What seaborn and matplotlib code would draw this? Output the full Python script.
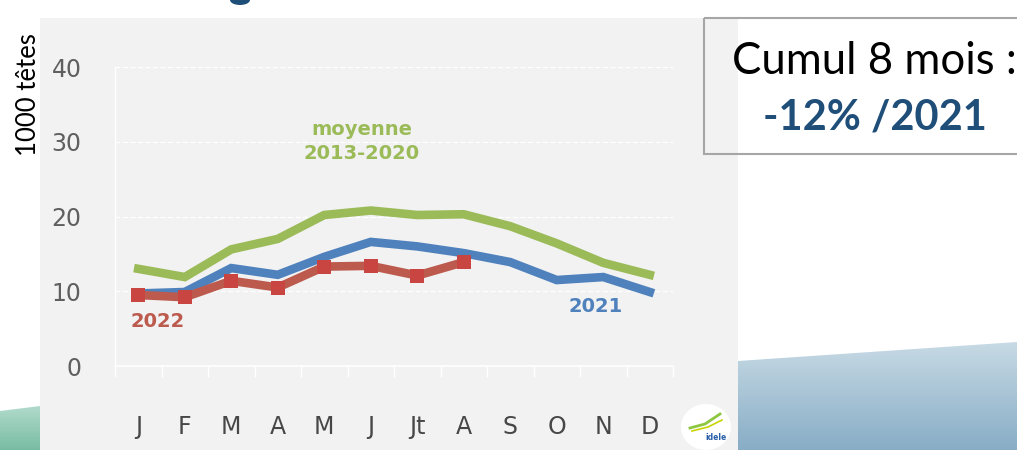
import numpy as np
import pandas as pd
import matplotlib
matplotlib.use("Agg")
import matplotlib.pyplot as plt
from matplotlib.colors import LinearSegmentedColormap
from matplotlib.patches import Rectangle, Polygon, Ellipse
import seaborn as sns

# ---------------- data ----------------
months = ["J", "F", "M", "A", "M", "J", "Jt", "A", "S", "O", "N", "D"]
moyenne_2013_2020 = [13.0, 11.9, 15.6, 17.0, 20.2, 20.8, 20.2, 20.3, 18.7, 16.4, 13.8, 12.2]
serie_2021 = [9.7, 9.9, 13.1, 12.2, 14.6, 16.6, 16.0, 15.1, 13.9, 11.5, 11.9, 9.9]
serie_2022 = [9.5, 9.2, 11.4, 10.5, 13.3, 13.4, 12.1, 13.9]
y_ticks = [0, 10, 20, 30, 40]

C_GREEN = "#9bbb59"
C_BLUE = "#4f81bd"
C_RED_LINE = "#bc5a4e"
C_RED_MARK = "#c94542"

df_moy = pd.DataFrame({"idx": range(len(moyenne_2013_2020)), "val": moyenne_2013_2020})
df_21 = pd.DataFrame({"idx": range(len(serie_2021)), "val": serie_2021})
df_22 = pd.DataFrame({"idx": range(len(serie_2022)), "val": serie_2022})

W, H = 1017, 450
fig = plt.figure(figsize=(W / 100, H / 100), dpi=100)
fig.patch.set_facecolor("white")

# ------------- background decoration (pixel coords) -------------
bg = fig.add_axes([0, 0, 1, 1], zorder=0)
bg.set_xlim(0, W)
bg.set_ylim(H, 0)
bg.axis("off")
bg.add_patch(Rectangle((40, 18), 698, 432, fc="#f2f2f2", ec="none", zorder=1))

def grad_poly(pts, c_top, c_bot, ext):
    cmap = LinearSegmentedColormap.from_list("g", [c_top, c_bot])
    grad = np.linspace(0, 1, 200).reshape(-1, 1)
    im = bg.imshow(grad, cmap=cmap, extent=ext, aspect="auto", zorder=2)
    poly = Polygon(pts, closed=True, fc="none", ec="none", transform=bg.transData)
    bg.add_patch(poly)
    im.set_clip_path(poly)

grad_poly([(0, 411), (40, 406), (40, 450), (0, 450)], "#b3dccd", "#78bca3", (0, 40, 450, 404))
grad_poly([(738, 361), (1017, 342), (1017, 450), (738, 450)], "#c8dbe5", "#88adc6", (738, 1017, 450, 340))
bg.set_xlim(0, W)
bg.set_ylim(H, 0)

# title remnant at the top
bg.add_patch(Ellipse((240, 0), 20, 10, fc="#1f4e79", ec="none", zorder=3))

# summary box
bg.add_patch(Rectangle((704, 18), 330, 136, fc="none", ec="#a6a6a6", lw=1.5, zorder=3))
bg.text(874, 62, "Cumul 8 mois :", fontsize=31.5, family="Lato", color="black",
        ha="center", va="center", zorder=4)
bg.text(875, 117, "-12% /2021", fontsize=30, family="Lato", fontweight="bold",
        color="#1f4e79", ha="center", va="center", zorder=4)

# small logo
bg.add_patch(Ellipse((706, 427), 50, 46, fc="white", ec="none", zorder=3))
bg.plot([690, 705, 720], [428, 424, 414], color="#8dc63f", lw=2, zorder=4)
bg.plot([692, 708, 722], [431, 427, 420], color="#c8d400", lw=1.2, zorder=4)
bg.text(716, 438, "idele", fontsize=5.5, fontweight="bold", color="#2a5fa8",
        ha="center", va="center", zorder=4)

# ---------------- main chart ----------------
ax = fig.add_axes([115 / W, (H - 366) / H, 558 / W, 299 / H], zorder=2)
ax.set_facecolor("none")

sns.lineplot(data=df_moy, x="idx", y="val", color=C_GREEN, linewidth=6.2,
             ax=ax, legend=False, solid_joinstyle="miter", zorder=3)
sns.lineplot(data=df_21, x="idx", y="val", color=C_BLUE, linewidth=6.2,
             ax=ax, legend=False, solid_joinstyle="miter", zorder=4)
sns.lineplot(data=df_22, x="idx", y="val", color=C_RED_LINE, linewidth=6.2,
             marker="s", markersize=10.5, markerfacecolor=C_RED_MARK,
             markeredgewidth=0, ax=ax, legend=False, zorder=5)

ax.set_xlim(-0.5, len(months) - 0.5)
ax.set_ylim(0, 40)
ax.set_xlabel("")
ax.set_ylabel("")

ax.set_yticks(y_ticks)
ax.set_yticklabels([str(v) for v in y_ticks])
ax.set_xticks(range(len(months)))
ax.set_xticklabels(months)
ax.set_xticks(np.arange(-0.5, len(months)), minor=True)

ax.tick_params(axis="y", length=0, pad=24, labelsize=17, labelcolor="#5f5f5f")
ax.tick_params(axis="x", which="major", length=0, pad=35, labelsize=17, labelcolor="#474747")
ax.tick_params(axis="x", which="minor", length=8, width=1, color="white", direction="out")

for s in ["top", "right"]:
    ax.spines[s].set_visible(False)
ax.spines["left"].set_color("white")
ax.spines["bottom"].set_color("white")
ax.spines["left"].set_linewidth(1)
ax.spines["bottom"].set_linewidth(1.2)

for v in y_ticks[1:]:
    ax.axhline(v, color="white", lw=0.9, ls=(0, (4, 2)), zorder=1)

# series labels
ax.text(4.81, 30.0, "moyenne\n2013-2020", color=C_GREEN, fontsize=14, fontweight="bold",
        ha="center", va="center", linespacing=1.35, zorder=6)
ax.text(9.84, 8.0, "2021", color=C_BLUE, fontsize=14, fontweight="bold",
        ha="center", va="center", zorder=6)
ax.text(0.42, 5.9, "2022", color=C_RED_LINE, fontsize=14, fontweight="bold",
        ha="center", va="center", zorder=6)

fig.text(29 / W, 1 - 95 / H, "1000 têtes", rotation=90, fontsize=18.5, family="Lato",
         color="black", ha="center", va="center")

fig.savefig("out.png", dpi=100)
